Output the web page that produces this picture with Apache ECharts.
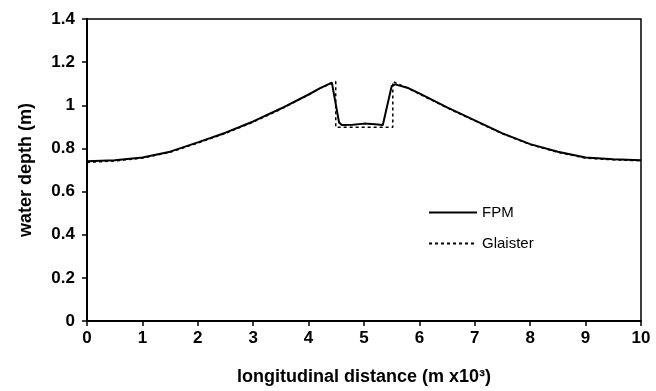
<!DOCTYPE html>
<html>
<head>
<meta charset="utf-8">
<script src="https://cdn.jsdelivr.net/npm/echarts@6/dist/echarts.min.js"></script>
<style>html,body{margin:0;padding:0;background:#fff;}#c{width:656px;height:391px;}</style>
</head>
<body>
<div id="c"></div>
<script>
const fpmX = [0, 0.5, 1, 1.5, 2, 2.5, 3, 3.5, 4, 4.2, 4.42, 4.55, 4.6, 4.8, 5.0, 5.2, 5.34, 5.5, 5.56, 5.8, 6, 6.5, 7, 7.5, 8, 8.5, 9, 9.5, 10];
const fpmY = [0.740, 0.745, 0.758, 0.785, 0.828, 0.873, 0.925, 0.985, 1.050, 1.078, 1.105, 0.920, 0.909, 0.910, 0.915, 0.912, 0.909, 1.089, 1.097, 1.080, 1.055, 0.990, 0.930, 0.870, 0.820, 0.785, 0.758, 0.750, 0.745];
const glaX = [0, 0.5, 1, 1.5, 2, 2.5, 3, 3.5, 4, 4.2, 4.49, 4.49, 5.0, 5.52, 5.52, 5.8, 6, 6.5, 7, 7.5, 8, 8.5, 9, 9.5, 10];
const glaY = [0.735, 0.742, 0.755, 0.782, 0.825, 0.870, 0.922, 0.982, 1.048, 1.078, 1.110, 0.898, 0.898, 0.898, 1.110, 1.078, 1.052, 0.988, 0.928, 0.868, 0.818, 0.782, 0.755, 0.747, 0.743];
const xTicks = [0, 1, 2, 3, 4, 5, 6, 7, 8, 9, 10];
const yTicks = [0, 0.2, 0.4, 0.6, 0.8, 1, 1.2, 1.4];
const seriesNames = ['FPM', 'Glaister'];

const pair = (xs, ys) => xs.map((x, i) => [x, ys[i]]);
const chart = echarts.init(document.getElementById('c'), null, {renderer: 'canvas'});
const font = 'Arial, "Liberation Sans", sans-serif';
chart.setOption({
  animation: false,
  backgroundColor: '#fff',
  grid: {left: 87, right: 15, top: 19, bottom: 67, show: true, borderColor: '#000', borderWidth: 1.5},
  legend: {
    orient: 'vertical', left: 423, top: 200, itemWidth: 48, itemHeight: 14, itemGap: 16,
    data: seriesNames,
    itemStyle: {opacity: 0},
    textStyle: {fontFamily: font, fontSize: 15, color: '#000'}
  },
  xAxis: {
    type: 'value', min: xTicks[0], max: xTicks[xTicks.length - 1], interval: 1,
    name: 'longitudinal distance (m x10³)', nameLocation: 'middle', nameGap: 47,
    nameTextStyle: {fontFamily: font, fontSize: 18, fontWeight: 'bold', color: '#000'},
    axisLine: {lineStyle: {color: '#000', width: 2}},
    axisTick: {show: true, inside: false, length: 5, lineStyle: {color: '#000', width: 1.5}},
    axisLabel: {fontFamily: font, fontSize: 17, fontWeight: 'bold', color: '#000', margin: 9},
    splitLine: {show: false}
  },
  yAxis: {
    type: 'value', min: yTicks[0], max: yTicks[yTicks.length - 1], interval: 0.2,
    name: 'water depth (m)', nameLocation: 'middle', nameGap: 52,
    nameTextStyle: {fontFamily: font, fontSize: 18, fontWeight: 'bold', color: '#000'},
    axisLine: {show: true, lineStyle: {color: '#000', width: 2}},
    axisTick: {show: true, inside: false, length: 5, lineStyle: {color: '#000', width: 1.5}},
    axisLabel: {fontFamily: font, fontSize: 17, fontWeight: 'bold', color: '#000', margin: 12, formatter: v => String(+v.toFixed(1))},
    splitLine: {show: false}
  },
  series: [
    {name: seriesNames[0], type: 'line', symbol: 'none', data: pair(fpmX, fpmY), smooth: false,
     lineStyle: {color: '#000', width: 2}, itemStyle: {color: '#000'}, z: 3},
    {name: seriesNames[1], type: 'line', symbol: 'none', data: pair(glaX, glaY), smooth: false,
     lineStyle: {color: '#000', width: 1.5, type: [3, 3]}, itemStyle: {color: '#000'}, z: 2}
  ]
});
</script>
</body>
</html>
